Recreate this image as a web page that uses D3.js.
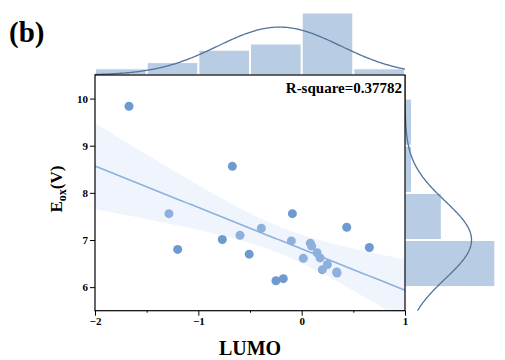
<!DOCTYPE html>
<html>
<head>
<meta charset="utf-8">
<script src="https://cdn.jsdelivr.net/npm/d3@7"></script>
<style>
  html, body { margin: 0; padding: 0; background: #fff; }
  svg text { font-family: "Liberation Serif", "Times New Roman", serif; font-weight: bold; fill: #000; }
</style>
</head>
<body>
<svg id="chart" width="505" height="360"></svg>
<script>
// LUMO (x) and oxidation potential E_ox in V (y) for each compound
const lumo = [-1.671, -0.671, -1.284, -1.200, -0.768, -0.597, -0.508, -0.390,
              -0.249, -0.178, -0.090, -0.100, 0.016, 0.084, 0.097, 0.149,
              0.178, 0.200, 0.249, 0.339, 0.342, 0.436, 0.655];
const eox  = [9.836, 8.563, 7.558, 6.800, 7.010, 7.100, 6.700, 7.250,
              6.136, 6.180, 7.558, 6.980, 6.610, 6.930, 6.870, 6.730,
              6.620, 6.370, 6.480, 6.320, 6.300, 7.270, 6.840];
const xTicks = [-2, -1, 0, 1];
const xMinorTicks = [-1.5, -0.5, 0.5];
const yTicks = [6, 7, 8, 9, 10];
const xBinEdges = [-2, -1.5, -1, -0.5, 0, 0.5, 1];
const yBinEdges = [5, 6, 7, 8, 9, 10, 11];
const rSquareLabel = "R-square=0.37782";

const svg = d3.select("#chart");
const L = 95, R = 405, T = 75, B = 310.7;

const x = d3.scaleLinear().domain([-2, 1]).range([L, R]);
const y = d3.scaleLinear().domain([5.5, 10.5]).range([B, T]);

// marginal count scales
const topCount = d3.scaleLinear().domain([0, 10]).range([T, T - 62]);
const rightCount = d3.scaleLinear().domain([0, 15]).range([R, R + 89.3]);

const barFill = "#b8cce4", curveColor = "#4f7399", pointColor = "#6e9ad0",
      lineColor = "#8db0dd", bandColor = "rgb(205,222,249)";

const n = lumo.length;

// ---- top marginal histogram ----
const xBins = d3.bin().domain([-2, 1]).thresholds(xBinEdges.slice(1, -1))(lumo);
svg.append("g").selectAll("rect").data(xBins).join("rect")
  .attr("x", d => x(d.x0) + 0.5)
  .attr("width", d => x(d.x1) - x(d.x0) - 1)
  .attr("y", d => topCount(d.length))
  .attr("height", d => T - topCount(d.length))
  .attr("fill", barFill)
  .attr("stroke", "#fff").attr("stroke-width", 1);

// normal fit, scaled to counts per bin
function normalCurve(values, binWidth, lo, hi) {
  const m = d3.mean(values), s = d3.deviation(values);
  return d3.range(0, 201).map(i => {
    const v = lo + (hi - lo) * i / 200;
    const pdf = Math.exp(-0.5 * ((v - m) / s) ** 2) / (s * Math.sqrt(2 * Math.PI));
    return [v, pdf * values.length * binWidth];
  });
}
const topCurve = normalCurve(lumo, 0.5, -2, 1);
svg.append("path")
  .attr("d", d3.line().x(d => x(d[0])).y(d => topCount(d[1]))(topCurve))
  .attr("fill", "none").attr("stroke", curveColor).attr("stroke-width", 1.3);

// ---- right marginal histogram ----
const yBins = d3.bin().domain([5, 11]).thresholds(yBinEdges.slice(1, -1))(eox)
  .filter(d => d.length > 0);
svg.append("g").selectAll("rect").data(yBins).join("rect")
  .attr("x", R)
  .attr("width", d => rightCount(d.length) - R + 0.6)
  .attr("y", d => y(d.x1) + 0.5)
  .attr("height", d => y(d.x0) - y(d.x1) - 1)
  .attr("fill", barFill)
  .attr("stroke", "#fff").attr("stroke-width", 1);

const rightCurve = normalCurve(eox, 1, 5.5, 10.5);
svg.append("path")
  .attr("d", d3.line().x(d => rightCount(d[1])).y(d => y(d[0]))(rightCurve))
  .attr("fill", "none").attr("stroke", curveColor).attr("stroke-width", 1.3);

// ---- main panel ----
svg.append("rect").attr("x", L).attr("y", T).attr("width", R - L).attr("height", B - T)
  .attr("fill", "#fff");

svg.append("defs").append("clipPath").attr("id", "plotClip")
  .append("rect").attr("x", L).attr("y", T).attr("width", R - L).attr("height", B - T);

const plot = svg.append("g").attr("clip-path", "url(#plotClip)");

plot.selectAll("circle").data(lumo.map((v, i) => [v, eox[i]])).join("circle")
  .attr("cx", d => x(d[0])).attr("cy", d => y(d[1])).attr("r", 4.5)
  .attr("fill", pointColor);

// ordinary least squares with 95% confidence band
const mx = d3.mean(lumo), my = d3.mean(eox);
const sxx = d3.sum(lumo, v => (v - mx) ** 2);
const sxy = d3.sum(lumo.map((v, i) => (v - mx) * (eox[i] - my)));
const slope = sxy / sxx, intercept = my - slope * mx;
const sse = d3.sum(lumo.map((v, i) => (eox[i] - (intercept + slope * v)) ** 2));
const sErr = Math.sqrt(sse / (n - 2));
const tCrit = 2.080;
const band = d3.range(0, 101).map(i => {
  const v = -2 + 3 * i / 100;
  const fit = intercept + slope * v;
  const half = tCrit * sErr * Math.sqrt(1 / n + (v - mx) ** 2 / sxx);
  return { v, lo: fit - half, hi: fit + half, fit };
});
plot.append("path")
  .attr("d", d3.area().x(d => x(d.v)).y0(d => y(d.lo)).y1(d => y(d.hi))(band))
  .attr("fill", bandColor).attr("fill-opacity", 0.33);
plot.append("path")
  .attr("d", d3.line().x(d => x(d.v)).y(d => y(d.fit))(band))
  .attr("fill", "none").attr("stroke", lineColor).attr("stroke-width", 1.6);

// frame
svg.append("rect").attr("x", L).attr("y", T).attr("width", R - L).attr("height", B - T)
  .attr("fill", "none").attr("stroke", "#000").attr("stroke-width", 1.2);

// axes
const fmt = d => (d < 0 ? "\u2212" + Math.abs(d) : String(d));
svg.append("g").attr("transform", `translate(0,${B})`)
  .call(d3.axisBottom(x).tickValues(xTicks).tickFormat(fmt).tickSize(5).tickPadding(2));
svg.append("g").attr("transform", `translate(0,${B})`)
  .call(d3.axisBottom(x).tickValues(xMinorTicks).tickFormat("").tickSize(2));
svg.append("g").attr("transform", `translate(${L},0)`)
  .call(d3.axisLeft(y).tickValues(yTicks).tickFormat(fmt).tickSize(5).tickPadding(2));
svg.selectAll(".domain").remove();
svg.selectAll(".tick line").attr("stroke", "#000").attr("stroke-width", 1);
svg.selectAll(".tick text")
  .style("font-family", "'Liberation Serif', serif").style("font-weight", "bold")
  .style("font-size", "11px").attr("fill", "#000");

// labels
svg.append("text").attr("x", 402).attr("y", 92.5).attr("text-anchor", "end")
  .style("font-size", "15px").text(rSquareLabel);

svg.append("text").attr("x", 250).attr("y", 355).attr("text-anchor", "middle")
  .style("font-size", "20px").text("LUMO");

const yl = svg.append("text").attr("transform", "translate(62,189) rotate(-90)")
  .attr("text-anchor", "middle").style("font-size", "17px");
yl.append("tspan").text("E");
yl.append("tspan").attr("dy", 4).style("font-size", "12px").text("ox");
yl.append("tspan").attr("dy", -4).text("(V)");

svg.append("text").attr("x", 9).attr("y", 42).style("font-size", "29px").text("(b)");
</script>
</body>
</html>
